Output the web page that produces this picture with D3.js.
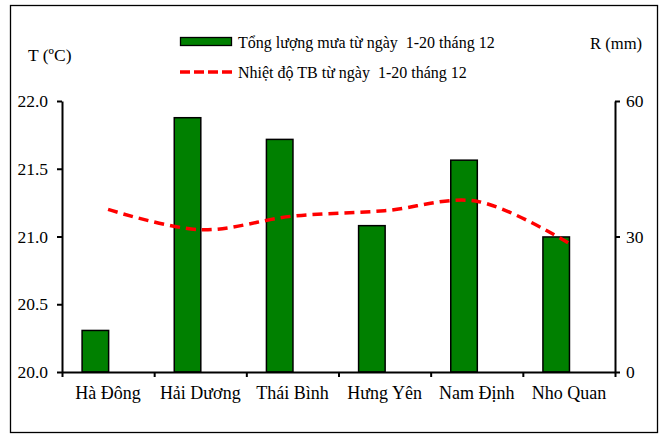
<!DOCTYPE html>
<html><head><meta charset="utf-8">
<script src="https://cdn.jsdelivr.net/npm/d3@7"></script>
<style>
body{margin:0;background:#fff}
svg{display:block}
</style></head>
<body><svg id="c" width="664" height="437"></svg>
<script>
const categories = ["Hà Đông","Hải Dương","Thái Bình","Hưng Yên","Nam Định","Nho Quan"];
const rain = [9.2, 56.3, 51.5, 32.4, 46.9, 29.9];
const temp = [21.20, 21.05, 21.15, 21.19, 21.26, 20.95];
const leftTicks = [20.0, 20.5, 21.0, 21.5, 22.0];
const rightTicks = [0, 30, 60];
const legendLabels = ["Tổng lượng mưa từ ngày  1-20 tháng 12", "Nhiệt độ TB từ ngày  1-20 tháng 12"];
const leftTitle = "T (ºC)", rightTitle = "R (mm)";

const FF = '"Liberation Serif", "Times New Roman", serif';
const svg = d3.select("#c");
const L = 62, R = 615, T = 101, B = 372;

svg.append("rect").attr("x",10.5).attr("y",5.5).attr("width",647).attr("height",427)
  .attr("fill","none").attr("stroke","#000").attr("stroke-width",1.3);

const x = d3.scaleBand().domain(categories).range([L,R]).padding(0);
const yL = d3.scaleLinear().domain([20,22]).range([B,T]);
const yR = d3.scaleLinear().domain([0,60]).range([B,T]);
const bw = x.bandwidth();

// bars
svg.append("g").selectAll("rect").data(categories).join("rect")
  .attr("x",(d)=>x(d)+bw*0.218)
  .attr("width",bw*0.288)
  .attr("y",(d,i)=>yR(rain[i]))
  .attr("height",(d,i)=>B-yR(rain[i]))
  .attr("fill","#008000").attr("stroke","#000").attr("stroke-width",1.5);

// line
const line = d3.line().x((d,i)=>x(categories[i])+bw/2).y(d=>yL(d)).curve(d3.curveCatmullRom.alpha(0.5));
svg.append("path").datum(temp).attr("d",line).attr("fill","none")
  .attr("stroke","#ff0000").attr("stroke-width",3.5).attr("stroke-dasharray","10,6");

// axes
const ga = svg.append("g").attr("transform",`translate(${L},0)`)
  .call(d3.axisLeft(yL).tickValues(leftTicks).tickFormat(d3.format(".1f")).tickSize(5).tickSizeOuter(0).tickPadding(9));
const gr = svg.append("g").attr("transform",`translate(${R},0)`)
  .call(d3.axisRight(yR).tickValues(rightTicks).tickSize(5).tickSizeOuter(0).tickPadding(6));
const xi = d3.scaleLinear().domain([0,categories.length]).range([L,R]);
const gx = svg.append("g").attr("transform",`translate(0,${B})`)
  .call(d3.axisBottom(xi).ticks(categories.length).tickFormat("").tickSize(5).tickSizeOuter(0));
const gl = svg.append("g").attr("transform",`translate(0,${B})`)
  .call(d3.axisBottom(x).tickSize(0).tickPadding(14));
gl.select(".domain").remove();
[[ga,"17.5px"],[gr,"17.5px"],[gx,"17px"],[gl,"18px"]].forEach(([g,fs])=>{
  g.attr("font-family",null).attr("font-size",null);
  g.selectAll("text").style("font-family",FF).style("font-size",fs).attr("fill","#000");
  g.selectAll("path,line").attr("stroke","#000").attr("stroke-width",2);
});

// titles
svg.append("text").attr("x",28).attr("y",55).attr("dy","0.35em").style("font-family",FF).style("font-size","17.5px").text(leftTitle);
svg.append("text").attr("x",590).attr("y",43).attr("dy","0.35em").style("font-family",FF).style("font-size","16.6px").text(rightTitle);

// legend
svg.append("rect").attr("x",180.5).attr("y",37.5).attr("width",51).attr("height",8)
  .attr("fill","#008000").attr("stroke","#000").attr("stroke-width",1.3);
svg.append("line").attr("x1",180).attr("x2",232).attr("y1",72).attr("y2",72)
  .attr("stroke","#ff0000").attr("stroke-width",3.5).attr("stroke-dasharray","10,4");
svg.append("text").attr("x",238).attr("y",42).attr("dy","0.35em").style("font-family",FF).style("font-size","16px").style("white-space","pre").text(legendLabels[0]);
svg.append("text").attr("x",238).attr("y",72).attr("dy","0.35em").style("font-family",FF).style("font-size","16px").style("white-space","pre").text(legendLabels[1]);
</script></body></html>
